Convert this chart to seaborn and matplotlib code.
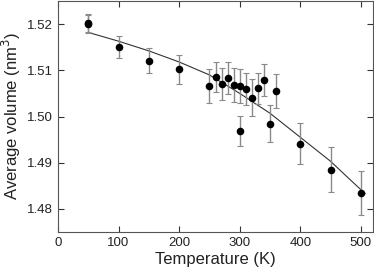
import numpy as np
import pandas as pd
import matplotlib
matplotlib.use("Agg")
import matplotlib.pyplot as plt
import seaborn as sns

# Data
temps = [50, 50, 100, 150, 200, 250, 260, 270, 280, 290, 300, 300, 310, 320, 330, 340, 350, 360, 400, 450, 500]
volumes = [1.5200, 1.5202, 1.5150, 1.5121, 1.5102, 1.5066, 1.5085, 1.5070, 1.5084, 1.5068, 1.5066, 1.4969,
           1.5060, 1.5041, 1.5061, 1.5079, 1.4984, 1.5055, 1.4941, 1.4885, 1.4834]
errors = [0.0020, 0.0020, 0.0024, 0.0027, 0.0032, 0.0036, 0.0033, 0.0035, 0.0035, 0.0036, 0.0036, 0.0032,
          0.0035, 0.0040, 0.0034, 0.0034, 0.0040, 0.0037, 0.0044, 0.0049, 0.0048]

fit_temps = [50, 100, 150, 200, 250, 300, 350, 400, 450, 480, 507]
fit_volumes = [1.5182, 1.5163, 1.5142, 1.5118, 1.5090, 1.5050, 1.5007, 1.4955, 1.4903, 1.4866, 1.4833]

xticks = [0, 100, 200, 300, 400, 500]
yticks = [1.48, 1.49, 1.50, 1.51, 1.52]

df = pd.DataFrame({"T": temps, "V": volumes, "err": errors})
fit = pd.DataFrame({"T": fit_temps, "V": fit_volumes})

sns.set_style("ticks")
plt.rcParams['font.family'] = ['Liberation Sans', 'DejaVu Sans']

fig = plt.figure(figsize=(3.74, 2.75), dpi=100)
ax = fig.add_axes([58/374, 1 - 232/275, (373 - 58)/374, (232 - 1)/275])

sns.lineplot(data=fit, x="T", y="V", ax=ax, color="#333333", linewidth=0.8, sort=False)
ax.errorbar(df["T"], df["V"], yerr=df["err"], fmt="none", ecolor="#8a8a8a",
            elinewidth=1.0, capsize=2.5, capthick=0.8, zorder=2)
sns.scatterplot(data=df, x="T", y="V", ax=ax, color="black", s=30, edgecolor="black",
                linewidth=0, zorder=3)

ax.set_xlim(0, 520)
ax.set_ylim(1.475, 1.525)
ax.set_xticks(xticks)
ax.set_yticks(yticks)
ax.set_yticklabels([f"{v:.2f}" for v in yticks])
ax.tick_params(direction="in", top=True, right=True, length=4, width=0.8,
               labelsize=9.5, colors="#333333", labelcolor="#222222")
for s in ax.spines.values():
    s.set_color("#555555")
    s.set_linewidth(0.8)

ax.set_xlabel("Temperature (K)", fontsize=12, color="#222222", labelpad=2)
ax.set_ylabel("Average volume (nm$^3$)", fontsize=12, color="#222222", labelpad=3)

fig.savefig("out.png", dpi=100)
